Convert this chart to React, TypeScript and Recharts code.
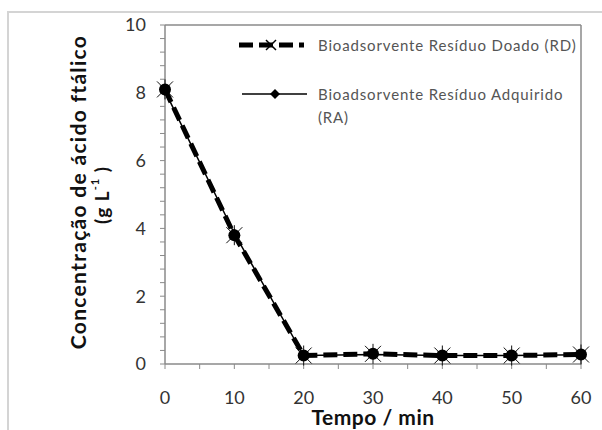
import React from 'react';
import { LineChart, Line, XAxis, YAxis, ReferenceLine } from 'recharts';

const tempo = [0, 10, 20, 30, 40, 50, 60];
const rdValues = [8.1, 3.8, 0.25, 0.3, 0.25, 0.25, 0.28];
const raValues = [8.05, 3.85, 0.25, 0.28, 0.25, 0.25, 0.27];
const xTicks = [0, 5, 10, 15, 20, 25, 30, 35, 40, 45, 50, 55, 60];
const yTicks = [0, 0.4, 0.8, 1.2, 1.6, 2, 2.4, 2.8, 3.2, 3.6, 4, 4.4, 4.8, 5.2, 5.6, 6, 6.4, 6.8, 7.2, 7.6, 8, 8.4, 8.8, 9.2, 9.6, 10];
const xMajor = [0, 10, 20, 30, 40, 50, 60];
const yMajor = [0, 2, 4, 6, 8, 10];
const rdName = 'Bioadsorvente Resíduo Doado (RD)';
const raName1 = 'Bioadsorvente Resíduo Adquirido';
const raName2 = '(RA)';
const yLabel1 = 'Concentração de ácido ftálico';
const xLabel = 'Tempo / min';

const data = tempo.map((t, i) => ({ t, rd: rdValues[i], ra: raValues[i] }));

const FONT = 'Lato, "Open Sans", sans-serif';
const AX = '#8a8a8a';

const StarDot = (props: any) => {
  const { cx, cy } = props;
  if (cx == null || cy == null) return null;
  return (
    <g>
      <line x1={cx - 8} y1={cy - 8} x2={cx + 8} y2={cy + 8} stroke="#111" strokeWidth={1} />
      <line x1={cx - 8} y1={cy + 8} x2={cx + 8} y2={cy - 8} stroke="#111" strokeWidth={1} />
      <line x1={cx} y1={cy - 10} x2={cx} y2={cy + 10} stroke="#111" strokeWidth={1} />
      <circle cx={cx} cy={cy} r={6} fill="#000" />
    </g>
  );
};

const DiamondDot = (props: any) => {
  const { cx, cy } = props;
  if (cx == null || cy == null) return null;
  const s = 5;
  return <path d={`M${cx},${cy - s}L${cx + s},${cy}L${cx},${cy + s}L${cx - s},${cy}Z`} fill="#000" />;
};

const LegendBox = () => (
  <div
    style={{
      position: 'absolute',
      left: 232,
      top: 33,
      width: 368,
      fontFamily: FONT,
      fontSize: 15,
      color: '#555',
      letterSpacing: 0.85,
      whiteSpace: 'nowrap',
    }}
  >
    <div style={{ display: 'flex', alignItems: 'center', height: 24 }}>
      <svg width={78} height={20} style={{ flex: 'none' }}>
        <line x1={7} y1={10} x2={72} y2={10} stroke="#000" strokeWidth={5} strokeDasharray="14 6" />
        <line x1={34} y1={5} x2={44} y2={15} stroke="#000" strokeWidth={1.5} />
        <line x1={34} y1={15} x2={44} y2={5} stroke="#000" strokeWidth={1.5} />
      </svg>
      <span style={{ marginLeft: 8 }}>{rdName}</span>
    </div>
    <div style={{ display: 'flex', alignItems: 'flex-start', marginTop: 26 }}>
      <svg width={78} height={22} style={{ flex: 'none' }}>
        <line x1={10} y1={11} x2={75} y2={11} stroke="#000" strokeWidth={1.5} />
        <path d="M43,6L48,11L43,16L38,11Z" fill="#000" />
      </svg>
      <span style={{ marginLeft: 8, lineHeight: '23px' }}>
        {raName1}
        <br />
        {raName2}
      </span>
    </div>
  </div>
);

export default function App() {
  return (
    <div style={{ position: 'absolute', left: 0, top: 0, width: 602, height: 430, background: '#fff' }}>
      <div
        style={{
          position: 'absolute',
          left: 7,
          top: 11,
          width: 595,
          height: 419,
          borderTop: '2px solid #d4d4d4',
          borderLeft: '2px solid #d4d4d4',
          boxSizing: 'border-box',
        }}
      />
      <div style={{ position: 'absolute', left: 0, top: 0 }}>
        <LineChart width={602} height={430} data={data} margin={{ top: 25, right: 21, bottom: 0, left: 105 }}>
          <XAxis
            dataKey="t"
            type="number"
            domain={[0, 60]}
            ticks={xTicks}
            interval={0}
            tickFormatter={(v: number) => (xMajor.includes(v) ? String(v) : '')}
            tick={{ fill: '#333', fontSize: 18, fontFamily: FONT }}
            tickSize={5}
            tickMargin={22}
            tickLine={{ stroke: AX }}
            axisLine={{ stroke: AX, strokeWidth: 1.5 }}
            height={66}
            label={{
              content: (p: any) => {
                const vb = p.viewBox || {};
                return (
                  <text
                    x={vb.x + vb.width / 2}
                    y={416}
                    textAnchor="middle"
                    dominantBaseline="central"
                    fontFamily={FONT}
                    fontWeight="bold"
                    fontSize={21}
                    letterSpacing={0.5}
                    fill="#111"
                  >
                    {xLabel}
                  </text>
                );
              },
            }}
          />
          <YAxis
            type="number"
            domain={[0, 10]}
            ticks={yTicks}
            interval={0}
            tickFormatter={(v: number) => (yMajor.some((m) => Math.abs(m - v) < 1e-6) ? String(Math.round(v)) : '')}
            tick={{ fill: '#333', fontSize: 18, fontFamily: FONT }}
            tickSize={5}
            tickMargin={14}
            tickLine={{ stroke: AX }}
            axisLine={{ stroke: AX, strokeWidth: 1.5 }}
            width={60}
            label={{
              content: () => {
                const c1 = 192;
                const c2 = 195;
                return (
                  <g>
                    <text
                      x={77}
                      y={c1}
                      transform={`rotate(-90 77 ${c1})`}
                      textAnchor="middle"
                      dominantBaseline="central"
                      fontFamily={FONT}
                      fontWeight="bold"
                      fontSize={21}
                      letterSpacing={1.3}
                      fill="#111"
                    >
                      {yLabel1}
                    </text>
                    <text
                      x={101}
                      y={c2}
                      transform={`rotate(-90 101 ${c2})`}
                      textAnchor="middle"
                      dominantBaseline="central"
                      fontFamily={FONT}
                      fontWeight="bold"
                      fontSize={19}
                      letterSpacing={1}
                      fill="#111"
                    >
                      (g L<tspan dy={-7} fontSize={11}>-1</tspan>
                      <tspan dy={7}> )</tspan>
                    </text>
                  </g>
                );
              },
            }}
          />
          <ReferenceLine y={10} stroke={AX} strokeWidth={1.5} />
          <ReferenceLine x={60} stroke={AX} strokeWidth={1.5} />
          <Line
            dataKey="rd"
            name={rdName}
            stroke="#000"
            strokeWidth={5}
            strokeDasharray="14 6"
            dot={<StarDot />}
            activeDot={false}
            isAnimationActive={false}
          />
          <Line
            dataKey="ra"
            name={raName1}
            stroke="#000"
            strokeWidth={1.5}
            dot={<DiamondDot />}
            activeDot={false}
            isAnimationActive={false}
          />
        </LineChart>
      </div>
      <LegendBox />
    </div>
  );
}
